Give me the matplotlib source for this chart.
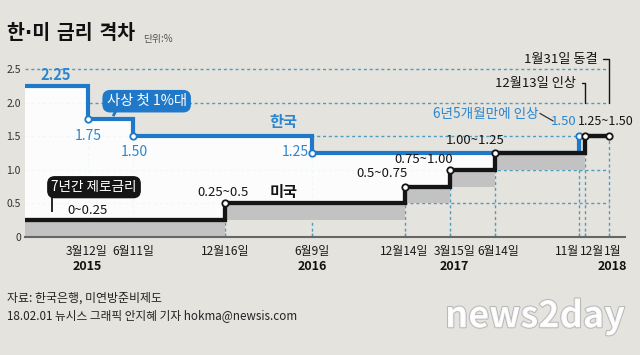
import matplotlib
matplotlib.use("Agg")
import matplotlib.pyplot as plt
import matplotlib.dates as mdates
import matplotlib.patheffects as pe
import numpy as np

plt.rcParams["font.family"] = ["Noto Sans CJK KR", "DejaVu Sans"]

# ---- data -------------------------------------------------------------
view_start = "2014-11-05"
view_end = "2018-03-04"
last_day = "2018-01-31"

kr_dates = ["2014-11-05", "2015-03-12", "2015-06-11", "2016-06-09", "2017-11-30"]
kr_rates = [2.25, 1.75, 1.50, 1.25, 1.50]

us_dates = ["2014-11-05", "2015-12-16", "2016-12-14", "2017-03-15", "2017-06-14", "2017-12-13"]
us_low = [0.00, 0.25, 0.50, 0.75, 1.00, 1.25]
us_high = [0.25, 0.50, 0.75, 1.00, 1.25, 1.50]

tick_dates = ["2015-03-12", "2015-06-11", "2015-12-16", "2016-06-09", "2016-12-14",
              "2017-03-15", "2017-06-14", "2017-11-30", "2017-12-13", "2018-01-31"]
tick_labels = ["3월12일", "6월11일", "12월16일", "6월9일", "12월14일",
               "3월15일", "6월14일", "11월", "12월", "1월"]
year_dates = ["2015-03-12", "2016-06-09", "2017-03-15", "2018-01-31"]
year_labels = ["2015", "2016", "2017", "2018"]

y_ticks = [0, 0.5, 1.0, 1.5, 2.0, 2.5]
y_labels = ["0", "0.5", "1.0", "1.5", "2.0", "2.5"]

# ---- style ------------------------------------------------------------
bg = "#e5e3de"
blue = "#1f78c8"
blue_txt = "#2b86cf"
black = "#151515"
band = "#c2c2c2"
grid_c = "#4f9ec2"


def num(ds):
    return mdates.date2num(np.array(ds, dtype="datetime64[D]"))


def level_at(dates, values, t):
    i = np.searchsorted(num(dates), t, side="right") - 1
    return np.asarray(values)[i]


kx = num(kr_dates)
ux = num(us_dates)
end = num([last_day])[0]
tx = num(tick_dates)

fig = plt.figure(figsize=(6.4, 3.55), dpi=100, facecolor=bg)
ax = fig.add_axes([25 / 640, 118 / 355, 600 / 640, 201.6 / 355])
ax.set_facecolor(bg)
ax.set_xlim(num([view_start])[0], num([view_end])[0])
ax.set_ylim(0, 3.0)

# dashed grid
ax.hlines(y_ticks[1:], kx[0], end, colors=grid_c, linestyles=(0, (2.2, 2)), lw=1, zorder=1)
levels = []
for t in tx:
    lv = 0
    if t in kx[1:]:
        lv = max(lv, level_at(kr_dates, kr_rates, t))
    if t in ux[1:] or t == end:
        lv = max(lv, level_at(us_dates, us_high, t))
    levels.append(lv)
ax.vlines(tx, 0, levels, colors=grid_c, linestyles=(0, (2.2, 2)), lw=1, zorder=1)

# white gap between the two rates
gx = np.unique(np.concatenate([kx, ux]))
gx = gx[gx <= kx[-1]]
ax.fill_between(gx, level_at(kr_dates, kr_rates, gx), level_at(us_dates, us_high, gx),
                step="post", color="white", alpha=0.92, lw=0, zorder=2)

# US target range band
ax.fill_between(ux, us_low, us_high, step="post", color=band, lw=0, zorder=2)

# step lines
ax.step(np.append(kx, end), kr_rates + [kr_rates[-1]], where="post",
        color=blue, lw=3.0, zorder=3, solid_joinstyle="miter")
ax.step(np.append(ux, end), us_high + [us_high[-1]], where="post",
        color=black, lw=3.1, zorder=4, solid_joinstyle="miter")
ax.plot(kx[1:], kr_rates[1:], "o", ms=4.6, mfc="white", mec=blue, mew=1.3, zorder=5)
ax.plot(np.append(ux[1:], end), us_high[1:] + [us_high[-1]], "o", ms=4.6,
        mfc="white", mec=black, mew=1.3, zorder=5)

# axes
for s in ["left", "right", "top"]:
    ax.spines[s].set_visible(False)
ax.spines["bottom"].set_color("#666666")
ax.spines["bottom"].set_linewidth(1.5)
ax.set_yticks(y_ticks)
ax.set_yticklabels(y_labels)
ax.tick_params(axis="y", length=0, pad=3, labelsize=7.5, labelcolor="#333333")
ax.set_xticks(tx)
ax.set_xticklabels([])
ax.tick_params(axis="x", direction="in", length=3, width=1, color=grid_c)

tick_dx = [-1, 1, 0, 0, -1, 4, 3, -12, 7, 4]
for t, lab, dx in zip(tx, tick_labels, tick_dx):
    ax.annotate(lab, xy=(t, 0), xycoords=("data", "axes fraction"), xytext=(dx, -14),
                textcoords="offset pixels", ha="center", va="center", fontsize=8.6, color="#1a1a1a")
for t, lab, dx in zip(num(year_dates), year_labels, [0, 0, 4, 3]):
    ax.annotate(lab, xy=(t, 0), xycoords=("data", "axes fraction"), xytext=(dx, -30),
                textcoords="offset pixels", ha="center", va="center", fontsize=9,
                fontweight="bold", color="#111111")


def note(text, x, y, dx, dy, **kw):
    kw.setdefault("ha", "center")
    kw.setdefault("va", "center")
    return ax.annotate(text, xy=(x, y), xytext=(dx, dy), textcoords="offset pixels",
                       zorder=6, **kw)


def shifted(x, y, dx, dy):
    p = ax.transData.transform((x, y)) + np.array([dx, dy])
    return ax.transData.inverted().transform(p)


def stroke(x, y, p0, p1, color, lw):
    a = shifted(x, y, *p0)
    b = shifted(x, y, *p1)
    ax.plot([a[0], b[0]], [a[1], b[1]], color=color, lw=lw, zorder=6,
            solid_capstyle="butt")


# Korea labels
note("2.25", kx[0], kr_rates[0], 31, 11, fontsize=10.5, fontweight="bold", color=blue_txt)
note("1.75", kx[1], kr_rates[1], 1, -17, fontsize=10, color=blue_txt)
note("1.50", kx[2], kr_rates[2], 2, -16, fontsize=10, color=blue_txt)
note("1.25", kx[3], kr_rates[3], -4, 1, ha="right", fontsize=10, color=blue_txt)
note("한국", kx[3], kr_rates[2], -29, 14, fontsize=11, fontweight="bold", color=blue_txt)
note("사상 첫 1%대", kx[2], kr_rates[2], 14, 35, fontsize=10.3, color="white",
     bbox=dict(boxstyle="round,pad=0.25,rounding_size=0.5", fc=blue, ec=blue))
stroke(kx[2], kr_rates[2], (-16, 27), (-19.5, 20), blue, 2)

note("6년5개월만에 인상", kx[4], kr_rates[4], -40, 22, ha="right", fontsize=9.8, color=blue_txt)
stroke(kx[4], kr_rates[4], (-39, 23), (-25, 15), "#333333", 0.9)
note("1.50", kx[4], kr_rates[4], -2, 15, ha="right", fontsize=9.5, color=blue_txt)

# US labels
note("7년간 제로금리", ux[0], us_high[0], 69, 33, fontsize=9.8, color="white",
     bbox=dict(boxstyle="round,pad=0.25,rounding_size=0.5", fc=black, ec=black))
stroke(ux[0], us_high[0], (27, 26), (27, 8), black, 1.3)
note("0~0.25", ux[0], us_high[0], 62, 10, fontsize=9.5, color=black)
note("0.25~0.5", ux[1], us_high[1], -2, 11, fontsize=9.5, color=black)
note("미국", kx[3], us_high[1], -29, 11, fontsize=11, fontweight="bold", color=black)
note("0.5~0.75", ux[2], us_high[2], -23, 13.5, fontsize=9.5, color=black)
note("0.75~1.00", ux[3], us_high[3], -26, 10, fontsize=9.5, color=black)
note("1.00~1.25", ux[4], us_high[4], -20, 13, fontsize=9.5, color=black)
note("1.25~1.50", end, us_high[5], -31, 15, ha="left", fontsize=9, color=black)

bracket = dict(arrowstyle="-", color=black, lw=1, shrinkA=2, shrinkB=24,
               connectionstyle="angle,angleA=0,angleB=90,rad=0", relpos=(1, 0.5))
note("12월13일 인상", ux[5], us_high[5], -9, 53, ha="right", fontsize=9.5, color=black,
     arrowprops=bracket)
note("1월31일 동결", end, us_high[5], -12, 77, ha="right", fontsize=9.5, color=black,
     arrowprops=bracket)

# title and footer
fig.text(7 / 640, 1 - 33 / 355, "한·미 금리 격차", fontsize=14, fontweight="bold",
         va="center", color="#111111", family=["DejaVu Sans", "Noto Sans CJK KR"])
fig.text(143 / 640, 1 - 39 / 355, "단위:%", fontsize=7, va="center", color="#555555")
fig.text(7 / 640, 1 - 298 / 355, "자료: 한국은행, 미연방준비제도", fontsize=8.6,
         va="center", color="#222222")
fig.text(7 / 640, 1 - 316 / 355, "18.02.01 뉴시스 그래픽 안지혜 기자 hokma@newsis.com",
         fontsize=8.4, va="center", color="#222222")
fig.text(535 / 640, 1 - 317 / 355, "news2day", fontsize=26, fontweight="bold",
         ha="center", va="center", color="white", alpha=0.9,
         path_effects=[pe.withStroke(linewidth=1.5, foreground="#b5b5b5")])

fig.savefig("out.png", dpi=100, facecolor=bg)
